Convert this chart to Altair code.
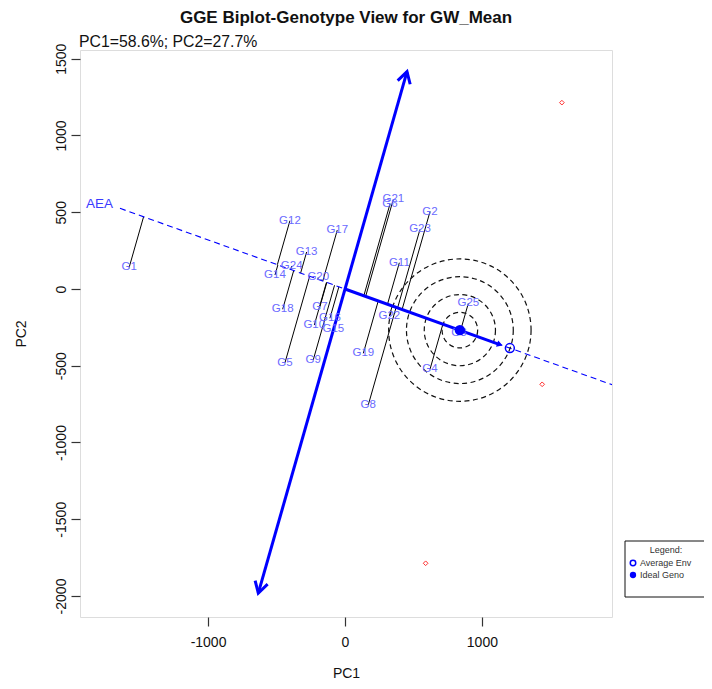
import math
import altair as alt
import pandas as pd

# ---------------- data ----------------
genotypes = ["G1", "G2", "G3", "G4", "G5", "G6", "G7", "G8", "G9", "G10",
             "G11", "G12", "G13", "G14", "G15", "G16", "G17", "G18", "G19", "G20",
             "G21", "G22", "G23", "G24", "G25"]
geno_pc1 = [-1576, 621, 833, 621, -438, 329, -183, 170, -232, -224,
            397, -402, -280, -511, -85, -110, -56, -455, 134, -195,
            353, 324, 548, -389, 901]
geno_pc2 = [141, 504, -287, -523, -480, 554, -115, -756, -463, -235,
            171, 445, 241, 91, -263, -191, 384, -132, -419, 76,
            584, -176, 389, 150, -93]

env_pc1 = [1584, 1440, 589]
env_pc2 = [1214, -621, -1787]

avg_env = [1204, -385]          # Average Environment coordinate
ideal_geno = [839, -268]        # Ideal genotype coordinate
aea_pc1_ends = [-1643, 1990]    # extent of the AEA dashed line
atc_top = [453, 1416]           # double-headed arrow ends
atc_bottom = [-633, -1982]
ae_arrow_tip = [1131, -362]     # tip of the solid arrow toward Average Env
ring_radii = [130, 260, 390, 520]   # concentric circles (PC1 units)

x_ticks = [-1000, 0, 1000]
y_ticks = [-2000, -1500, -1000, -500, 0, 500, 1000, 1500]

title_text = "GGE Biplot-Genotype View for GW_Mean"
subtitle_text = "PC1=58.6%; PC2=27.7%"

# ---------------- layout ----------------
W, H = 532, 567
XDOM = [-1935, 1950]
YDOM = [-2137, 1557]
kx = W / (XDOM[1] - XDOM[0])
ky = H / (YDOM[1] - YDOM[0])
FONT = "Liberation Sans"
BLUE = "#0000ff"

def X():
    return alt.X("x:Q", scale=alt.Scale(domain=XDOM, nice=False, zero=False),
                 axis=alt.Axis(values=x_ticks, title="PC1", grid=False, domain=False,
                               labelExpr="'' + datum.value",
                               tickSize=9, tickColor="#333", tickWidth=1.2,
                               labelFont=FONT, labelFontSize=14, labelColor="#111",
                               labelPadding=9, labelFlush=False,
                               titleFont=FONT, titleFontSize=14, titleFontWeight="normal",
                               titleColor="#111", titlePadding=17))

def Y():
    return alt.Y("y:Q", scale=alt.Scale(domain=YDOM, nice=False, zero=False),
                 axis=alt.Axis(values=y_ticks, title="PC2", grid=False, domain=False,
                               labelExpr="'' + datum.value",
                               tickSize=9, tickColor="#333", tickWidth=1.2,
                               labelFont=FONT, labelFontSize=14, labelColor="#111",
                               labelAngle=-90, labelAlign="center", labelBaseline="bottom",
                               labelPadding=3, labelFlush=False,
                               titleFont=FONT, titleFontSize=14, titleFontWeight="normal",
                               titleColor="#111", titlePadding=26))

# projections of genotypes on the AEA
n = math.hypot(avg_env[0], avg_env[1])
ux, uy = avg_env[0] / n, avg_env[1] / n
proj = [(gx * ux + gy * uy) for gx, gy in zip(geno_pc1, geno_pc2)]
geno_df = pd.DataFrame({
    "label": genotypes, "x": geno_pc1, "y": geno_pc2,
    "x2": [p * ux for p in proj], "y2": [p * uy for p in proj],
})

slope = avg_env[1] / avg_env[0]
aea_df = pd.DataFrame({"x": [aea_pc1_ends[0]], "y": [aea_pc1_ends[0] * slope],
                       "x2": [aea_pc1_ends[1]], "y2": [aea_pc1_ends[1] * slope]})
aea_lab = pd.DataFrame({"x": [aea_pc1_ends[0]], "y": [aea_pc1_ends[0] * slope], "t": ["AEA"]})

atc_df = pd.DataFrame({"x": [atc_bottom[0]], "y": [atc_bottom[1]],
                       "x2": [atc_top[0]], "y2": [atc_top[1]]})
ae_df = pd.DataFrame({"x": [0], "y": [0], "x2": [ae_arrow_tip[0]], "y2": [ae_arrow_tip[1]]})

def ang(dx, dy):
    sx, sy = dx * kx, -dy * ky
    return math.degrees(math.atan2(sx, -sy)) % 360

heads_df = pd.DataFrame({
    "x": [atc_top[0], atc_bottom[0]], "y": [atc_top[1], atc_bottom[1]],
    "a": [ang(atc_top[0] - atc_bottom[0], atc_top[1] - atc_bottom[1]),
          ang(atc_bottom[0] - atc_top[0], atc_bottom[1] - atc_top[1])],
})
small_head_df = pd.DataFrame({"x": [ae_arrow_tip[0]], "y": [ae_arrow_tip[1]],
                              "a": [ang(ae_arrow_tip[0], ae_arrow_tip[1])]})

ring_df = pd.DataFrame({"x": [ideal_geno[0]] * len(ring_radii),
                        "y": [ideal_geno[1]] * len(ring_radii),
                        "s": [(2 * r * kx) ** 2 for r in ring_radii]})
env_df = pd.DataFrame({"x": env_pc1, "y": env_pc2})
avg_df = pd.DataFrame({"x": [avg_env[0]], "y": [avg_env[1]]})
ideal_df = pd.DataFrame({"x": [ideal_geno[0]], "y": [ideal_geno[1]]})

one = pd.DataFrame({"k": [0]})
V_PATH = "M-0.5,0.866L0,0L0.5,0.866"

layers = []
layers.append(alt.Chart(geno_df).mark_rule(color="#000", strokeWidth=1).encode(
    x=X(), y=Y(), x2="x2:Q", y2="y2:Q"))
layers.append(alt.Chart(aea_df).mark_rule(color=BLUE, strokeWidth=1.1, strokeDash=[6, 4],
                                          clip=True).encode(x=X(), y=Y(), x2="x2:Q", y2="y2:Q"))
layers.append(alt.Chart(aea_lab).mark_text(font=FONT, fontSize=13.5, color="#3a3aff",
                                           align="right", baseline="middle", dx=-7, dy=-4).encode(
    x=X(), y=Y(), text="t:N"))
layers.append(alt.Chart(ring_df).mark_point(shape="circle", filled=False, color="#111",
                                            strokeWidth=1.2, strokeDash=[5, 3.5], opacity=1).encode(
    x=X(), y=Y(), size=alt.Size("s:Q", scale=None)))
layers.append(alt.Chart(atc_df).mark_rule(color=BLUE, strokeWidth=3).encode(
    x=X(), y=Y(), x2="x2:Q", y2="y2:Q"))
layers.append(alt.Chart(heads_df).mark_point(shape=V_PATH, filled=False, color=BLUE,
                                             strokeWidth=3, size=676, opacity=1).encode(
    x=X(), y=Y(), angle=alt.Angle("a:Q", scale=None)))
layers.append(alt.Chart(ae_df).mark_rule(color=BLUE, strokeWidth=3).encode(
    x=X(), y=Y(), x2="x2:Q", y2="y2:Q"))
layers.append(alt.Chart(small_head_df).mark_point(shape="triangle-up", filled=True, color=BLUE,
                                                  size=45, opacity=1).encode(
    x=X(), y=Y(), angle=alt.Angle("a:Q", scale=None)))
layers.append(alt.Chart(geno_df).mark_text(font=FONT, fontSize=11.5, color="#6a6aff").encode(
    x=X(), y=Y(), text="label:N"))
layers.append(alt.Chart(env_df).mark_point(shape="diamond", filled=False, color="#ff3030",
                                           strokeWidth=1, size=22, opacity=1).encode(x=X(), y=Y()))
layers.append(alt.Chart(avg_df).mark_point(shape="circle", filled=False, color=BLUE,
                                           strokeWidth=1.5, size=80, opacity=1).encode(x=X(), y=Y()))
layers.append(alt.Chart(ideal_df).mark_point(shape="circle", filled=True, color=BLUE,
                                             size=110, opacity=1).encode(x=X(), y=Y()))

# titles
layers.append(alt.Chart(one).mark_text(text=title_text, font=FONT, fontSize=17, fontWeight="bold",
                                       color="#111", align="center", baseline="middle").encode(
    x=alt.value(W / 2), y=alt.value(-32)))
layers.append(alt.Chart(one).mark_text(text=subtitle_text, font=FONT, fontSize=15.8,
                                       color="#111", align="left", baseline="middle").encode(
    x=alt.value(-1), y=alt.value(-8)))

# legend box (bottom-right, outside the plot, running to the page edge)
layers.append(alt.Chart(one).mark_rect(fill="white", stroke="#111", strokeWidth=1).encode(
    x=alt.value(545), x2=alt.value(640), y=alt.value(491), y2=alt.value(547)))
layers.append(alt.Chart(one).mark_text(text="Legend:", font=FONT, fontSize=9, color="#333",
                                       align="center", baseline="middle").encode(
    x=alt.value(586), y=alt.value(500)))
layers.append(alt.Chart(one).mark_point(shape="circle", filled=False, color=BLUE, strokeWidth=1.5,
                                        size=30, opacity=1).encode(x=alt.value(553), y=alt.value(513)))
layers.append(alt.Chart(one).mark_text(text="Average Env", font=FONT, fontSize=9, color="#333",
                                       align="left", baseline="middle").encode(
    x=alt.value(560), y=alt.value(513)))
layers.append(alt.Chart(one).mark_point(shape="circle", filled=True, color=BLUE,
                                        size=40, opacity=1).encode(x=alt.value(553), y=alt.value(525)))
layers.append(alt.Chart(one).mark_text(text="Ideal Geno", font=FONT, fontSize=9, color="#333",
                                       align="left", baseline="middle").encode(
    x=alt.value(560), y=alt.value(525)))

chart = alt.layer(*layers).properties(
    width=W, height=H,
    autosize=alt.AutoSizeParams(type="none"),
    padding={"left": 72, "top": 42, "right": 92, "bottom": 64},
).configure_view(stroke="#333", strokeWidth=1.3).configure(background="white")

chart.save("out.html", embed_options={"renderer": "svg", "actions": False})
